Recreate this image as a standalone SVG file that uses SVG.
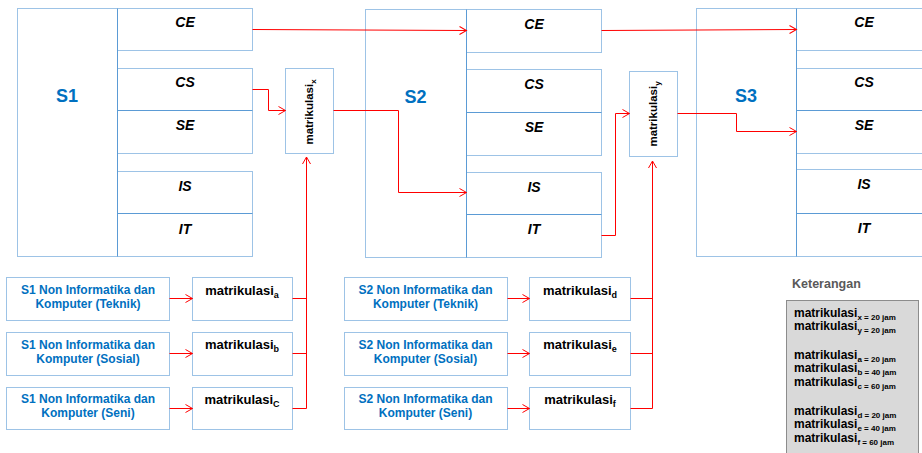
<svg xmlns="http://www.w3.org/2000/svg" width="922" height="453" viewBox="0 0 922 453">
<defs>
<style>
.box{fill:#fff;stroke:#9dc3e6;stroke-width:1}
.dv{stroke:#5b9bd5;stroke-width:1;fill:none}
.sub{font-family:"Liberation Sans",Arial,sans-serif;font-weight:bold;font-style:italic;font-size:14px;text-anchor:middle;fill:#000}
.big{font-family:"Liberation Sans",Arial,sans-serif;font-weight:bold;font-size:18px;text-anchor:middle;fill:#0070c0}
.src{font-family:"Liberation Sans",Arial,sans-serif;font-weight:bold;font-size:12px;text-anchor:middle;fill:#0070c0}
.mat{font-family:"Liberation Sans",Arial,sans-serif;font-weight:bold;font-size:13px;text-anchor:middle;fill:#000}
.rot{font-family:"Liberation Sans",Arial,sans-serif;font-weight:bold;font-size:11.5px;text-anchor:middle;fill:#000}
.leg{font-family:"Liberation Sans",Arial,sans-serif;font-weight:bold;font-size:12px;fill:#000}
.ket{font-family:"Liberation Sans",Arial,sans-serif;font-weight:bold;font-size:12.5px;fill:#595959}
.wire{fill:none;stroke:#ff0000;stroke-width:1}
</style>
<marker id="arr" markerUnits="userSpaceOnUse" markerWidth="10" markerHeight="10" refX="7" refY="4" orient="auto" overflow="visible">
<path d="M0,0 L7,4 L0,8" fill="none" stroke="#ff0000" stroke-width="1"/>
</marker>
</defs>
<rect width="922" height="453" fill="#fff"/>

<!-- S1 block -->
<g id="s1">
<rect class="box" x="17.5" y="8.5" width="100" height="248"/>
<text class="big" x="67" y="102">S1</text>
</g>
<g id="s1-ce"><rect class="box" x="117.5" y="8.5" width="135" height="42"/><text class="sub" x="185" y="27">CE</text></g>
<g id="s1-cs"><rect class="box" x="117.5" y="68.5" width="135" height="42"/><text class="sub" x="185" y="87">CS</text></g>
<g id="s1-se"><rect class="box" x="117.5" y="110.5" width="135" height="43"/><text class="sub" x="185" y="130">SE</text></g>
<g id="s1-is"><rect class="box" x="117.5" y="171.5" width="135" height="42"/><text class="sub" x="185" y="191">IS</text></g>
<g id="s1-it"><rect class="box" x="117.5" y="213.5" width="135" height="43"/><text class="sub" x="185" y="234">IT</text></g>
<path class="dv" d="M117.5,8.5 V256.5 M117.5,110.5 H252.5 M117.5,213.5 H252.5"/>

<!-- matrikulasi x -->
<g id="mat-x">
<rect class="box" x="285.5" y="68.5" width="48" height="85"/>
<text class="rot" transform="translate(313,112) rotate(-90)">matrikulasi<tspan dy="3" font-size="8">x</tspan></text>
</g>

<!-- S2 block -->
<g id="s2">
<rect class="box" x="365.5" y="9.5" width="101" height="248"/>
<text class="big" x="415.5" y="103">S2</text>
</g>
<g id="s2-ce"><rect class="box" x="466.5" y="9.5" width="135" height="43"/><text class="sub" x="534" y="29">CE</text></g>
<g id="s2-cs"><rect class="box" x="466.5" y="69.5" width="135" height="43"/><text class="sub" x="534" y="89">CS</text></g>
<g id="s2-se"><rect class="box" x="466.5" y="112.5" width="135" height="43"/><text class="sub" x="534" y="132">SE</text></g>
<g id="s2-is"><rect class="box" x="466.5" y="172.5" width="135" height="42"/><text class="sub" x="534" y="192">IS</text></g>
<g id="s2-it"><rect class="box" x="466.5" y="214.5" width="135" height="43"/><text class="sub" x="534" y="234">IT</text></g>
<path class="dv" d="M466.5,9.5 V257.5 M466.5,112.5 H601.5 M466.5,214.5 H601.5"/>

<!-- matrikulasi y -->
<g id="mat-y">
<rect class="box" x="629.5" y="71.5" width="48" height="85"/>
<text class="rot" transform="translate(657,114) rotate(-90)">matrikulasi<tspan dy="3" font-size="8">y</tspan></text>
</g>

<!-- S3 block -->
<g id="s3">
<rect class="box" x="696.5" y="8.5" width="100" height="248"/>
<text class="big" x="746" y="102">S3</text>
</g>
<g id="s3-ce"><rect class="box" x="796.5" y="8.5" width="140" height="42"/><text class="sub" x="864" y="27">CE</text></g>
<g id="s3-cs"><rect class="box" x="796.5" y="68.5" width="140" height="42"/><text class="sub" x="864" y="87">CS</text></g>
<g id="s3-se"><rect class="box" x="796.5" y="110.5" width="140" height="43"/><text class="sub" x="864" y="130">SE</text></g>
<g id="s3-is"><rect class="box" x="796.5" y="169.5" width="140" height="44"/><text class="sub" x="864" y="189">IS</text></g>
<g id="s3-it"><rect class="box" x="796.5" y="213.5" width="140" height="43"/><text class="sub" x="864" y="233">IT</text></g>
<path class="dv" d="M796.5,8.5 V256.5 M796.5,110.5 H922 M796.5,213.5 H922"/>

<!-- bottom left sources -->
<g id="src-s1-teknik"><rect class="box" x="6.5" y="277.5" width="163" height="43"/><text class="src" x="88" y="294">S1 Non Informatika dan</text><text class="src" x="88" y="308">Komputer (Teknik)</text></g>
<g id="src-s1-sosial"><rect class="box" x="6.5" y="332.5" width="163" height="43"/><text class="src" x="88" y="349">S1 Non Informatika dan</text><text class="src" x="88" y="363">Komputer (Sosial)</text></g>
<g id="src-s1-seni"><rect class="box" x="6.5" y="387.5" width="163" height="42"/><text class="src" x="88" y="403">S1 Non Informatika dan</text><text class="src" x="88" y="417">Komputer (Seni)</text></g>

<g id="mat-a"><rect class="box" x="192.5" y="277.5" width="100" height="43"/><text class="mat" x="242" y="295">matrikulasi<tspan dy="3" font-size="9">a</tspan></text></g>
<g id="mat-b"><rect class="box" x="192.5" y="332.5" width="100" height="43"/><text class="mat" x="242" y="349">matrikulasi<tspan dy="3" font-size="9">b</tspan></text></g>
<g id="mat-c"><rect class="box" x="192.5" y="387.5" width="100" height="42"/><text class="mat" x="242" y="404">matrikulasi<tspan dy="3" font-size="9">C</tspan></text></g>

<!-- bottom middle sources -->
<g id="src-s2-teknik"><rect class="box" x="344.5" y="277.5" width="163" height="43"/><text class="src" x="425.5" y="294">S2 Non Informatika dan</text><text class="src" x="425.5" y="308">Komputer (Teknik)</text></g>
<g id="src-s2-sosial"><rect class="box" x="344.5" y="332.5" width="163" height="43"/><text class="src" x="425.5" y="349">S2 Non Informatika dan</text><text class="src" x="425.5" y="363">Komputer (Sosial)</text></g>
<g id="src-s2-seni"><rect class="box" x="344.5" y="387.5" width="163" height="42"/><text class="src" x="425.5" y="403">S2 Non Informatika dan</text><text class="src" x="425.5" y="417">Komputer (Seni)</text></g>

<g id="mat-d"><rect class="box" x="529.5" y="277.5" width="101" height="43"/><text class="mat" x="580" y="295">matrikulasi<tspan dy="3" font-size="9">d</tspan></text></g>
<g id="mat-e"><rect class="box" x="529.5" y="332.5" width="101" height="43"/><text class="mat" x="580" y="349">matrikulasi<tspan dy="3" font-size="9">e</tspan></text></g>
<g id="mat-f"><rect class="box" x="529.5" y="387.5" width="101" height="42"/><text class="mat" x="580" y="404">matrikulasi<tspan dy="3" font-size="9">f</tspan></text></g>

<!-- legend -->
<g id="legend">
<text class="ket" x="792" y="288">Keterangan</text>
<rect x="786.5" y="300.5" width="132" height="165" fill="#d9d9d9" stroke="#8c8c8c" stroke-width="1"/>
<text class="leg" x="794" y="317">matrikulasi<tspan dy="3" font-size="8">x = 20 jam</tspan></text>
<text class="leg" x="794" y="330">matrikulasi<tspan dy="3" font-size="8">y = 20 jam</tspan></text>
<text class="leg" x="794" y="359">matrikulasi<tspan dy="3" font-size="8">a = 20 jam</tspan></text>
<text class="leg" x="794" y="372">matrikulasi<tspan dy="3" font-size="8">b = 40 jam</tspan></text>
<text class="leg" x="794" y="386">matrikulasi<tspan dy="3" font-size="8">c = 60 jam</tspan></text>
<text class="leg" x="794" y="415">matrikulasi<tspan dy="3" font-size="8">d = 20 jam</tspan></text>
<text class="leg" x="794" y="428">matrikulasi<tspan dy="3" font-size="8">e = 40 jam</tspan></text>
<text class="leg" x="794" y="442">matrikulasi<tspan dy="3" font-size="8">f = 60 jam</tspan></text>
</g>

<!-- connectors -->
<g id="connectors">
<path class="wire" d="M252.5,29.5 L466.5,30.5" marker-end="url(#arr)"/>
<path class="wire" d="M601.5,30.5 L796.5,29.5" marker-end="url(#arr)"/>
<path class="wire" d="M252.5,89.5 H268.5 V110.5 H285.5" marker-end="url(#arr)"/>
<path class="wire" d="M333.5,110.5 H398.5 V192.5 H466.5" marker-end="url(#arr)"/>
<path class="wire" d="M601.5,235.5 H615.5 V113.5 H629.5" marker-end="url(#arr)"/>
<path class="wire" d="M677.5,113.5 H736.5 V131.5 H796.5" marker-end="url(#arr)"/>
<path class="wire" d="M306.5,408.5 V157" marker-end="url(#arr)"/>
<path class="wire" d="M292.5,298.5 H306.5 M292.5,353.5 H306.5 M292.5,408.5 H306.5"/>
<path class="wire" d="M652.5,408.5 V161" marker-end="url(#arr)"/>
<path class="wire" d="M630.5,298.5 H652.5 M630.5,353.5 H652.5 M630.5,408.5 H652.5"/>
<path class="wire" d="M169.5,298.5 H192.5" marker-end="url(#arr)"/>
<path class="wire" d="M169.5,353.5 H192.5" marker-end="url(#arr)"/>
<path class="wire" d="M169.5,408.5 H192.5" marker-end="url(#arr)"/>
<path class="wire" d="M507.5,298.5 H529.5" marker-end="url(#arr)"/>
<path class="wire" d="M507.5,353.5 H529.5" marker-end="url(#arr)"/>
<path class="wire" d="M507.5,408.5 H529.5" marker-end="url(#arr)"/>
</g>
</svg>
